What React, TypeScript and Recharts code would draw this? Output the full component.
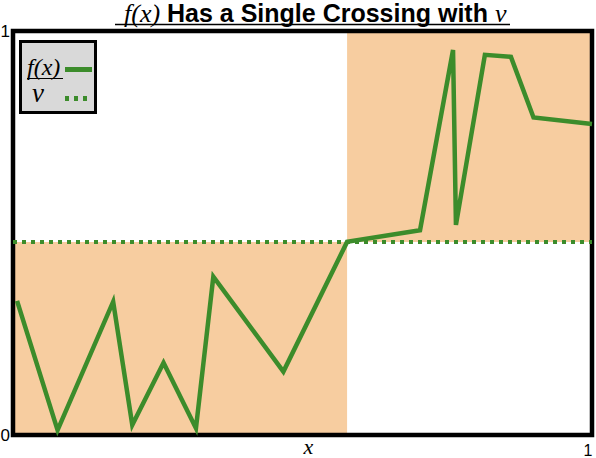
import {
  LineChart,
  Line,
  XAxis,
  YAxis,
  ReferenceArea,
  ReferenceLine,
  Legend,
} from 'recharts';

const xValues = [0.007, 0.077, 0.173, 0.206, 0.26, 0.316, 0.346, 0.467, 0.577, 0.703, 0.76, 0.765, 0.815, 0.86, 0.899, 1.0];
const fValues = [0.332, 0.012, 0.33, 0.025, 0.179, 0.017, 0.392, 0.157, 0.478, 0.507, 0.953, 0.52, 0.941, 0.936, 0.786, 0.77];

const vLevel = 0.478;
const crossingX = 0.577;

const xTicks = [1];
const yTicks = [0, 1];

const legendItems = [
  { name: 'f(x)', dash: undefined as string | undefined, underline: true },
  { name: 'v', dash: '4 5', underline: false },
];

const GREEN = '#3c8c2b';
const SHADE = '#f7cda0';
const SANS = '"Liberation Sans", Arial, Helvetica, sans-serif';
const SERIF = '"Liberation Serif", "Times New Roman", serif';

const fData = xValues.map((x, i) => ({ x, y: fValues[i] }));

function YTick({ y, payload }: any) {
  return (
    <text x={10} y={y} dy={6} textAnchor="end" fontFamily={SANS} fontSize={17} fill="#000">
      {payload.value}
    </text>
  );
}

function XTick({ x, y, payload }: any) {
  return (
    <text x={x - 4} y={y + 13} textAnchor="middle" fontFamily={SANS} fontSize={16} fill="#000">
      {payload.value}
    </text>
  );
}

function XLabel({ viewBox }: any) {
  const cx = viewBox.x + viewBox.width / 2 + 6;
  return (
    <text x={cx} y={viewBox.y + 19} textAnchor="middle" fontFamily={SERIF} fontStyle="italic" fontSize={22} fill="#000">
      x
    </text>
  );
}

function LegendBox() {
  return (
    <div
      style={{
        position: 'relative',
        width: 78,
        height: 74,
        boxSizing: 'border-box',
        border: '3px solid #000',
        background: '#d9d9d9',
      }}
    >
      <svg width={72} height={68} style={{ display: 'block' }}>
        {legendItems.map((item, i) => {
          const rowY = i * 29;
          return (
            <g key={item.name}>
              <text
                x={item.underline ? 5 : 10}
                y={32 + rowY - (item.underline ? 0 : 2)}
                fontFamily={SERIF}
                fontStyle="italic"
                fontSize={item.underline ? 24 : 27}
                fill="#000"
              >
                {item.name}
              </text>
              {item.underline && (
                <line x1={5} x2={41} y1={35.5 + rowY} y2={35.5 + rowY} stroke="#000" strokeWidth={1.2} />
              )}
              <line
                x1={43}
                x2={70}
                y1={26.5 + rowY}
                y2={26.5 + rowY}
                stroke={GREEN}
                strokeWidth={5}
                strokeDasharray={item.dash}
              />
            </g>
          );
        })}
      </svg>
    </div>
  );
}

export default function App() {
  return (
    <div style={{ position: 'absolute', left: 0, top: 0, width: 596, height: 458, background: '#fff' }}>
      <LineChart width={596} height={458} margin={{ top: 31, right: 4, left: 0, bottom: 0 }}>
        <XAxis
          dataKey="x"
          type="number"
          domain={[0, 1]}
          ticks={xTicks}
          axisLine={false}
          tickLine={false}
          height={23}
          tick={<XTick />}
          label={<XLabel />}
        />
        <YAxis
          dataKey="y"
          type="number"
          domain={[0, 1]}
          ticks={yTicks}
          axisLine={false}
          tickLine={false}
          width={13}
          tick={<YTick />}
        />
        <ReferenceArea x1={0} x2={crossingX} y1={0} y2={vLevel} fill={SHADE} fillOpacity={1} stroke="none" />
        <ReferenceArea x1={crossingX} x2={1} y1={vLevel} y2={1} fill={SHADE} fillOpacity={1} stroke="none" />
        <ReferenceLine y={vLevel} stroke={GREEN} strokeWidth={4} strokeDasharray="4 5" />
        <Line
          data={fData}
          dataKey="y"
          name="f(x)"
          stroke={GREEN}
          strokeWidth={4.5}
          dot={false}
          activeDot={false}
          isAnimationActive={false}
          strokeLinejoin="miter"
        />
        <ReferenceArea x1={0} x2={1} y1={0} y2={1} fill="none" stroke="#000" strokeWidth={4.5} />
        <Legend
          align="center"
          verticalAlign="middle"
          content={<LegendBox />}
          wrapperStyle={{ left: 19, top: 40, width: 78, height: 74 }}
        />
      </LineChart>
      <svg style={{ position: 'absolute', left: 0, top: 0 }} width={596} height={29}>
        <text x={124} y={22} fill="#000">
          <tspan fontFamily={SERIF} fontStyle="italic" fontSize={26}>f(x)</tspan>
          <tspan fontFamily={SANS} fontWeight="bold" fontSize={25}> Has a Single Crossing with </tspan>
          <tspan fontFamily={SERIF} fontStyle="italic" fontSize={26}>v</tspan>
        </text>
        <line x1={115} x2={510} y1={24.5} y2={24.5} stroke="#000" strokeWidth={1.5} />
      </svg>
    </div>
  );
}
